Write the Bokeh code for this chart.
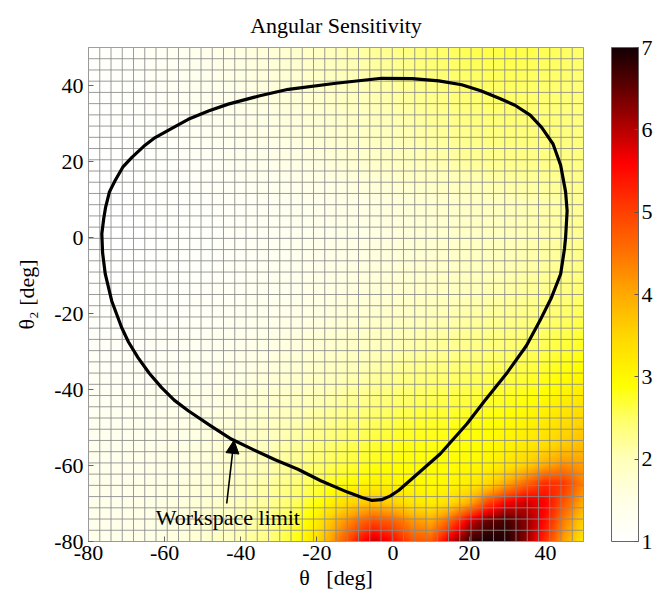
import numpy as np
from bokeh.plotting import figure
from bokeh.models import LinearColorMapper, ColorBar, FixedTicker, Label, Arrow, NormalHead
from bokeh.embed import file_html
from bokeh.resources import INLINE

# ---------------- data ----------------
x_nodes = [-80, -75, -70, -65, -60, -55, -50, -45, -40, -35, -30, -25, -20, -15, -10,
           -5, 0, 5, 10, 15, 20, 25, 30, 35, 40, 45, 50]
y_nodes = [-80, -75, -70, -65, -60, -55, -50, -40, -30, -20, -10, 0, 10, 20, 30, 40, 50]

sens_y_m80 = [1.40, 1.42, 1.45, 1.49, 1.55, 1.63, 1.75, 1.90, 2.06, 2.25, 2.50, 2.85, 3.40, 4.30, 5.20,
              5.90, 5.50, 4.80, 4.70, 5.80, 6.70, 7.00, 6.90, 6.30, 5.20, 4.10, 3.30]
sens_y_m75 = [1.39, 1.41, 1.44, 1.48, 1.54, 1.62, 1.73, 1.87, 2.02, 2.20, 2.45, 2.75, 3.20, 3.90, 4.50,
              4.90, 4.70, 4.20, 4.00, 4.70, 5.80, 6.50, 6.70, 6.30, 5.50, 4.40, 3.60]
sens_y_m70 = [1.38, 1.40, 1.43, 1.47, 1.53, 1.61, 1.71, 1.84, 1.98, 2.14, 2.32, 2.55, 2.85, 3.20, 3.55,
              3.70, 3.55, 3.25, 3.15, 3.40, 3.90, 4.90, 5.60, 5.90, 5.60, 4.80, 4.00]
sens_y_m65 = [1.37, 1.39, 1.42, 1.46, 1.51, 1.58, 1.68, 1.80, 1.93, 2.07, 2.23, 2.40, 2.60, 2.80, 2.97,
              3.07, 3.05, 2.98, 2.95, 3.00, 3.15, 3.45, 4.00, 4.60, 5.20, 5.10, 4.40]
sens_y_m60 = [1.35, 1.37, 1.40, 1.43, 1.48, 1.55, 1.64, 1.75, 1.87, 2.00, 2.15, 2.30, 2.45, 2.60, 2.72,
              2.82, 2.88, 2.90, 2.90, 2.92, 2.96, 3.05, 3.25, 3.55, 3.95, 4.25, 4.10]
sens_y_m55 = [1.33, 1.35, 1.37, 1.40, 1.45, 1.52, 1.60, 1.70, 1.81, 1.93, 2.06, 2.20, 2.34, 2.48, 2.60,
              2.70, 2.78, 2.82, 2.84, 2.86, 2.88, 2.94, 3.05, 3.20, 3.40, 3.65, 3.80]
sens_y_m50 = [1.30, 1.32, 1.34, 1.37, 1.42, 1.48, 1.56, 1.65, 1.75, 1.86, 1.98, 2.10, 2.22, 2.34, 2.46,
              2.56, 2.65, 2.72, 2.78, 2.82, 2.85, 2.90, 2.98, 3.10, 3.25, 3.45, 3.60]
sens_y_m40 = [1.23, 1.24, 1.25, 1.27, 1.31, 1.36, 1.42, 1.49, 1.57, 1.66, 1.76, 1.86, 1.96, 2.06, 2.16,
              2.25, 2.34, 2.42, 2.49, 2.55, 2.60, 2.65, 2.71, 2.78, 2.88, 3.00, 3.15]
sens_y_m30 = [1.16, 1.16, 1.17, 1.18, 1.21, 1.25, 1.30, 1.36, 1.42, 1.49, 1.57, 1.65, 1.73, 1.81, 1.89,
              1.97, 2.05, 2.12, 2.19, 2.26, 2.32, 2.38, 2.45, 2.52, 2.60, 2.70, 2.80]
sens_y_m20 = [1.10, 1.09, 1.09, 1.10, 1.12, 1.15, 1.19, 1.24, 1.29, 1.35, 1.41, 1.48, 1.55, 1.62, 1.69,
              1.76, 1.83, 1.90, 1.97, 2.04, 2.10, 2.16, 2.23, 2.30, 2.38, 2.46, 2.55]
sens_y_m10 = [1.06, 1.04, 1.04, 1.05, 1.07, 1.10, 1.13, 1.17, 1.22, 1.27, 1.32, 1.38, 1.44, 1.50, 1.56,
              1.62, 1.68, 1.74, 1.80, 1.86, 1.92, 1.98, 2.05, 2.12, 2.19, 2.27, 2.35]
sens_y_0 = [1.03, 1.01, 1.01, 1.02, 1.04, 1.07, 1.10, 1.14, 1.18, 1.23, 1.28, 1.33, 1.38, 1.43, 1.48,
            1.54, 1.60, 1.66, 1.72, 1.78, 1.84, 1.90, 1.96, 2.03, 2.10, 2.17, 2.25]
sens_y_10 = [1.02, 1.01, 1.02, 1.04, 1.06, 1.09, 1.13, 1.17, 1.21, 1.26, 1.30, 1.35, 1.40, 1.45, 1.50,
             1.56, 1.62, 1.68, 1.74, 1.80, 1.86, 1.92, 1.98, 2.04, 2.10, 2.16, 2.22]
sens_y_20 = [1.02, 1.02, 1.04, 1.07, 1.11, 1.16, 1.21, 1.27, 1.33, 1.39, 1.46, 1.52, 1.59, 1.66, 1.74,
             1.82, 1.90, 1.97, 2.04, 2.11, 2.18, 2.24, 2.28, 2.30, 2.31, 2.32, 2.34]
sens_y_30 = [1.03, 1.04, 1.07, 1.11, 1.16, 1.22, 1.28, 1.35, 1.42, 1.49, 1.56, 1.63, 1.70, 1.78, 1.86,
             1.94, 2.02, 2.10, 2.18, 2.26, 2.32, 2.37, 2.40, 2.40, 2.38, 2.36, 2.35]
sens_y_40 = [1.04, 1.06, 1.10, 1.15, 1.21, 1.28, 1.35, 1.42, 1.50, 1.58, 1.66, 1.74, 1.82, 1.91, 2.00,
             2.08, 2.16, 2.24, 2.32, 2.40, 2.46, 2.50, 2.52, 2.50, 2.46, 2.42, 2.38]
sens_y_50 = [1.05, 1.08, 1.12, 1.18, 1.25, 1.32, 1.40, 1.48, 1.56, 1.64, 1.72, 1.80, 1.90, 2.00, 2.10,
             2.20, 2.28, 2.36, 2.44, 2.52, 2.58, 2.62, 2.64, 2.62, 2.58, 2.52, 2.45]

# workspace limit contour
limit_x = [-27.5, -15.0, -3.0, 5.0, 12.0, 18.0, 23.0, 28.0, 32.0, 36.0, 39.0, 42.0, 44.0, 45.3, 45.7,
           45.3, 45.0, 44.0, 41.5, 38.5, 35.0, 30.0, 24.0, 19.4, 12.4, 5.4, 1.5, -0.7, -3.0, -5.5,
           -8.0, -12.0, -19.0, -25.0, -31.0, -37.0, -42.4, -48.0, -53.8, -57.5, -60.8, -64.0, -67.0,
           -69.5, -71.3, -73.9, -75.6, -76.3, -76.5, -76.0, -75.5, -74.5, -73.0, -71.0, -68.6, -65.5,
           -62.5, -58.0, -53.8, -48.5, -43.3, -35.0, -27.5]
limit_y = [39.0, 40.6, 41.9, 41.8, 41.2, 40.2, 38.6, 36.6, 34.8, 32.2, 29.0, 24.6, 19.0, 12.0, 7.0,
           0.0, -3.0, -9.6, -16.0, -22.0, -28.5, -35.5, -43.0, -49.0, -56.9, -63.1, -66.5, -68.0,
           -69.0, -69.2, -68.5, -67.0, -64.0, -61.0, -58.5, -55.7, -53.1, -49.5, -45.6, -42.8, -39.5,
           -35.8, -31.6, -27.5, -23.7, -16.7, -9.6, -4.0, 1.0, 5.0, 8.0, 12.0, 15.0, 18.5, 21.1, 24.0,
           26.3, 28.8, 31.1, 33.3, 35.1, 37.3, 39.0]

x_ticks = [-80, -60, -40, -20, 0, 20, 40]
y_ticks = [-80, -60, -40, -20, 0, 20, 40]
cbar_ticks = [1, 2, 3, 4, 5, 6, 7]

title_text = "Angular Sensitivity"
note_text = "Workspace limit"
note_pos = [-43.4, -73.6]
arrow_from = [-43.7, -70.0]
arrow_to = [-41.8, -53.4]

# ---------------- build field ----------------
rows = [sens_y_m80, sens_y_m75, sens_y_m70, sens_y_m65, sens_y_m60, sens_y_m55, sens_y_m50,
        sens_y_m40, sens_y_m30, sens_y_m20, sens_y_m10, sens_y_0, sens_y_10, sens_y_20,
        sens_y_30, sens_y_40, sens_y_50]
grid = np.array(rows, dtype=float)
xn = np.array(x_nodes, float)
yn = np.array(y_nodes, float)
# Gouraud-style shading of the measured node grid for display
xf = np.linspace(-80, 50, 261)
yf = np.linspace(-80, 50, 261)
tmp = np.array([np.interp(xf, xn, r) for r in grid])
field = np.array([np.interp(yf, yn, tmp[:, j]) for j in range(len(xf))]).T

# colormap (inverted "hot" as seen on the colour bar)
anchor_v = [1.0, 1.5, 2.0, 2.5, 2.9, 3.5, 4.0, 4.5, 5.0, 5.6, 6.0, 6.5, 7.0]
anchor_r = [255, 255, 255, 255, 255, 255, 255, 255, 255, 255, 185, 100, 20]
anchor_g = [255, 255, 255, 255, 255, 215, 170, 115, 65, 0, 0, 0, 0]
anchor_b = [255, 230, 185, 100, 0, 0, 0, 0, 0, 0, 0, 0, 5]
vv = np.linspace(1, 7, 256)
palette = ["#%02x%02x%02x" % (int(np.interp(v, anchor_v, anchor_r)),
                              int(np.interp(v, anchor_v, anchor_g)),
                              int(np.interp(v, anchor_v, anchor_b))) for v in vv]
mapper = LinearColorMapper(palette=palette, low=1, high=7)

FONT = "Liberation Serif"

p = figure(frame_width=495, frame_height=494, x_range=(-80, 50), y_range=(-80, 50),
           output_backend="svg", toolbar_location=None, title=title_text,
           min_border_left=88, min_border_top=47, min_border_bottom=56, min_border_right=0)
p.grid.visible = False
p.background_fill_color = "white"
p.outline_line_color = "#999999"

p.image(image=[field], x=-80, y=-80, dw=130, dh=130, color_mapper=mapper)

# mesh lines
nodes = np.linspace(-80, 50, 45)
p.segment(x0=nodes, y0=-80, x1=nodes, y1=50, line_color="#8a8a8a", line_width=1, line_alpha=0.85)
p.segment(x0=-80, y0=nodes, x1=50, y1=nodes, line_color="#8a8a8a", line_width=1, line_alpha=0.85)

p.line(limit_x, limit_y, line_color="black", line_width=3.2, line_join="round")

p.add_layout(Arrow(end=NormalHead(size=13, fill_color="black", line_color="black"),
                   x_start=arrow_from[0], y_start=arrow_from[1],
                   x_end=arrow_to[0], y_end=arrow_to[1], line_width=1.6, line_color="black"))
p.add_layout(Label(x=note_pos[0], y=note_pos[1], text=note_text, text_font=FONT,
                   text_font_size="22px", text_align="center", text_baseline="middle",
                   text_color="black"))

p.title.align = "center"
p.title.text_font = FONT
p.title.text_font_size = "22px"
p.title.text_font_style = "normal"
p.title.text_color = "black"
p.title.standoff = 20

for ax, ticks in ((p.xaxis, x_ticks), (p.yaxis, y_ticks)):
    ax.ticker = FixedTicker(ticks=ticks)
    ax.major_label_overrides = {t: str(t) for t in ticks}
    ax.major_label_text_font = FONT
    ax.major_label_text_font_size = "22px"
    ax.major_label_text_color = "black"
    ax.axis_label_text_font = FONT
    ax.axis_label_text_font_size = "22px"
    ax.axis_label_text_font_style = "normal"
    ax.axis_label_text_color = "black"
    ax.axis_line_color = "#999999"
    ax.major_tick_in = 5
    ax.major_tick_out = 0
    ax.major_tick_line_color = "#666666"
    ax.minor_tick_line_color = None

p.xaxis.axis_label = "θ\u00a0\u00a0\u00a0[deg]"
p.yaxis.axis_label = "θ\u2082 [deg]"
p.xaxis.major_label_standoff = 4
p.yaxis.major_label_standoff = 5
p.xaxis.axis_label_standoff = 2
p.yaxis.axis_label_standoff = 12

cb = ColorBar(color_mapper=mapper, ticker=FixedTicker(ticks=cbar_ticks), width=27, height=494,
              padding=0, margin=0, location=(28, 0),
              major_label_text_font=FONT, major_label_text_font_size="22px",
              major_label_text_color="black", label_standoff=3,
              major_tick_in=4, major_tick_out=0, major_tick_line_color="#555555",
              bar_line_color="#666666", background_fill_color="white")
p.add_layout(cb, "right")

open("out.html", "w").write(file_html(p, INLINE))
